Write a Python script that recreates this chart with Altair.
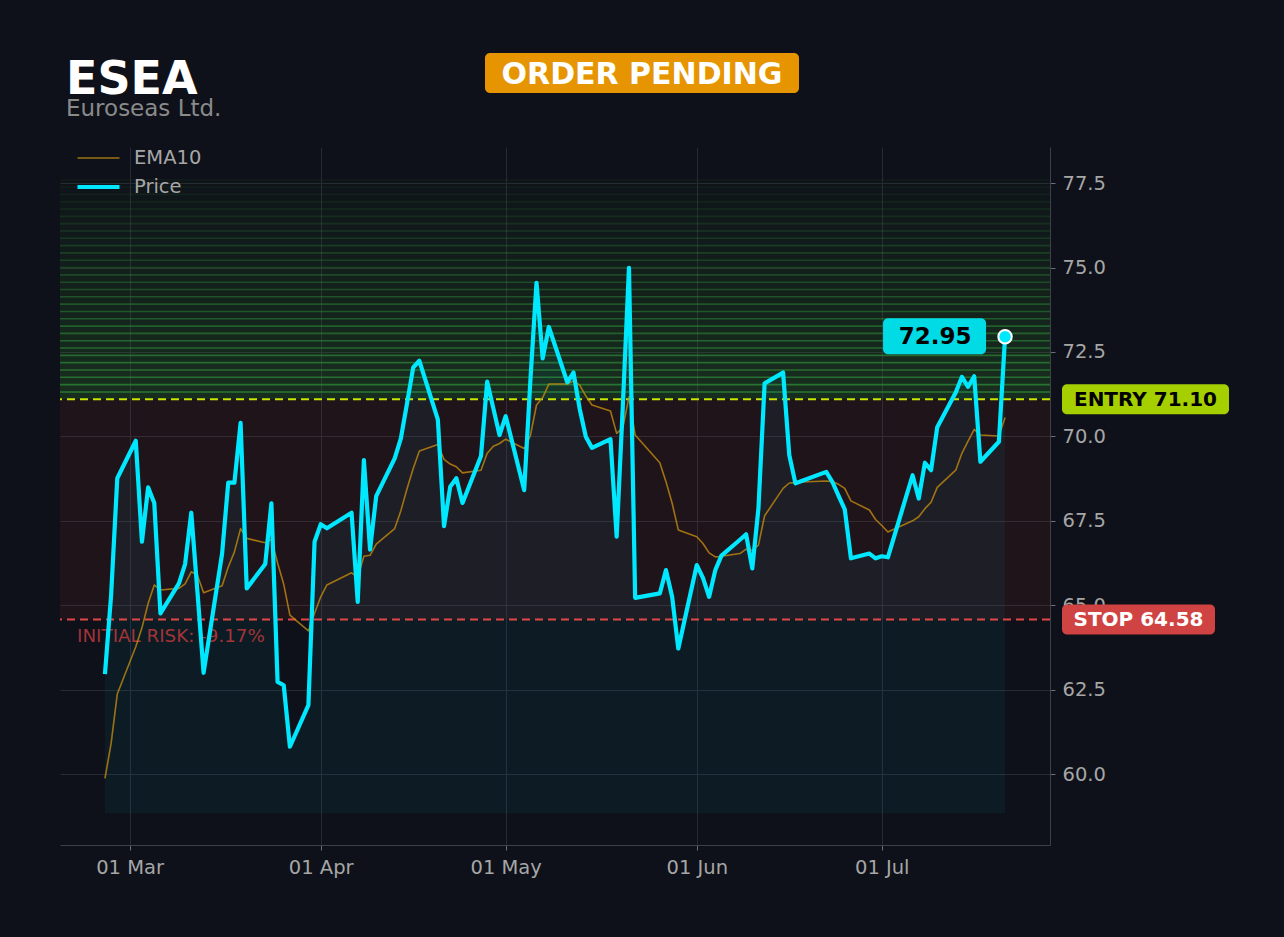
import altair as alt
import pandas as pd
import numpy as np

# ---------------- data ----------------
DATES = [
    "2026-02-25", "2026-02-26", "2026-02-27",
    "2026-03-02", "2026-03-03", "2026-03-04", "2026-03-05", "2026-03-06",
    "2026-03-09", "2026-03-10", "2026-03-11", "2026-03-12", "2026-03-13",
    "2026-03-16", "2026-03-17", "2026-03-18", "2026-03-19", "2026-03-20",
    "2026-03-23", "2026-03-24", "2026-03-25", "2026-03-26", "2026-03-27",
    "2026-03-30", "2026-03-31", "2026-04-01", "2026-04-02",
    "2026-04-06", "2026-04-07", "2026-04-08", "2026-04-09", "2026-04-10",
    "2026-04-13", "2026-04-14", "2026-04-15", "2026-04-16", "2026-04-17",
    "2026-04-20", "2026-04-21", "2026-04-22", "2026-04-23", "2026-04-24",
    "2026-04-27", "2026-04-28", "2026-04-29", "2026-04-30", "2026-05-01",
    "2026-05-04", "2026-05-05", "2026-05-06", "2026-05-07", "2026-05-08",
    "2026-05-11", "2026-05-12", "2026-05-13", "2026-05-14", "2026-05-15",
    "2026-05-18", "2026-05-19", "2026-05-20", "2026-05-21", "2026-05-22",
    "2026-05-26", "2026-05-27", "2026-05-28", "2026-05-29",
    "2026-06-01", "2026-06-02", "2026-06-03", "2026-06-04", "2026-06-05",
    "2026-06-08", "2026-06-09", "2026-06-10", "2026-06-11", "2026-06-12",
    "2026-06-15", "2026-06-16", "2026-06-17", "2026-06-18",
    "2026-06-22", "2026-06-23", "2026-06-24", "2026-06-25", "2026-06-26",
    "2026-06-29", "2026-06-30", "2026-07-01", "2026-07-02",
    "2026-07-06", "2026-07-07", "2026-07-08", "2026-07-09", "2026-07-10",
    "2026-07-13", "2026-07-14", "2026-07-15", "2026-07-16", "2026-07-17",
    "2026-07-20", "2026-07-21",
]
PRICE = [
    62.96, 65.30, 68.76,
    69.87, 66.88, 68.49, 68.03, 64.76,
    65.65, 66.22, 67.74, 65.40, 63.00,
    66.53, 68.63, 68.63, 70.40, 65.50,
    66.22, 68.02, 62.73, 62.63, 60.81,
    62.04, 66.88, 67.40, 67.28,
    67.74, 65.10, 69.30, 66.65, 68.23,
    69.35, 69.94, 70.98, 72.04, 72.24,
    70.50, 67.34, 68.51, 68.76, 68.03,
    69.42, 71.62, 70.83, 70.04, 70.60,
    68.41, 71.64, 74.55, 72.31, 73.24,
    71.60, 71.89, 70.82, 69.99, 69.66,
    69.92, 67.03, 70.90, 74.99, 65.22,
    65.35, 66.04, 65.25, 63.72,
    66.19, 65.81, 65.25, 66.04, 66.47,
    66.94, 67.10, 66.09, 67.87, 71.57,
    71.89, 69.45, 68.61, 68.68,
    68.95, 68.65, 68.24, 67.84, 66.39,
    66.53, 66.39, 66.45, 66.42,
    68.85, 68.16, 69.22, 69.00, 70.27,
    71.30, 71.76, 71.47, 71.78, 69.25,
    69.84, 72.95,
]
EMA10 = [
    59.87, 60.91, 62.37,
    63.77, 64.33, 65.05, 65.60, 65.45,
    65.50, 65.63, 65.99, 65.89, 65.37,
    65.58, 66.13, 66.58, 67.27, 66.98,
    66.85, 66.95, 66.25, 65.62, 64.71,
    64.24, 64.76, 65.25, 65.60,
    65.96, 65.83, 66.45, 66.48, 66.81,
    67.27, 67.80, 68.45, 69.05, 69.57,
    69.76, 69.32, 69.18, 69.10, 68.92,
    69.00, 69.50, 69.71, 69.79, 69.92,
    69.64, 70.02, 70.93, 71.15, 71.55,
    71.55, 71.64, 71.52, 71.20, 70.93,
    70.75, 70.09, 70.25, 71.17, 70.04,
    69.22, 68.66, 68.02, 67.23,
    67.03, 66.83, 66.55, 66.43, 66.45,
    66.53, 66.66, 66.63, 66.78, 67.65,
    68.46, 68.62, 68.63, 68.65,
    68.68, 68.66, 68.58, 68.46, 68.09,
    67.82, 67.54, 67.36, 67.17,
    67.50, 67.62, 67.86, 68.05, 68.49,
    69.00, 69.50, 69.86, 70.21, 70.04,
    70.01, 70.56,
]
SERIES = ["EMA10", "Price"]

TICKER = "ESEA"
COMPANY = "Euroseas Ltd."
STATUS = "ORDER PENDING"
ENTRY = 71.10
STOP = 64.58
TARGET_TOP = 77.60
FILL_BASE = 58.84
LAST_PRICE = 72.95
ENTRY_TEXT = "ENTRY 71.10"
STOP_TEXT = "STOP 64.58"
LAST_TEXT = "72.95"
RISK_TEXT = "INITIAL RISK: -9.17%"
Y_TICKS = [60.0, 62.5, 65.0, 67.5, 70.0, 72.5, 75.0, 77.5]
Y_DOMAIN = [57.90, 78.57]
MONTH_TICKS = [3, 4, 5, 6, 7]

# ---------------- style ----------------
BG = "#0e1119"
CYAN = "#00e8ff"
CYAN_BADGE = "#00dbe6"
GOLD = "#c08a10"
ENTRY_LINE = "#c8e600"
ENTRY_BADGE = "#a6cf00"
STOP_LINE = "#e04848"
STOP_BADGE = "#cf4343"
ORANGE = "#e69500"
LABEL = "#a6a6a6"
GRID = "#252a33"
FONT = "DejaVu Sans"
W, H = 990, 698

xscale = alt.Scale(
    type="utc",
    domain=[
        alt.DateTime(year=2026, month=2, date=17, hours=17, utc=True),
        alt.DateTime(year=2026, month=7, date=28, hours=7, utc=True),
    ],
)
yscale = alt.Scale(domain=Y_DOMAIN, nice=False, zero=False)

xaxis = alt.Axis(
    values=[alt.DateTime(year=2026, month=m, date=1, utc=True) for m in MONTH_TICKS],
    format="%d %b", title=None, grid=True, gridColor=GRID, gridWidth=1,
    labelFontSize=19.5, labelColor=LABEL, labelFont=FONT, tickColor="#6a6e76",
    tickSize=5, labelPadding=8, domainColor="#3b4049", labelFlush=False,
)
yaxis = alt.Axis(
    orient="right", values=Y_TICKS, format=".1f", title=None, grid=True,
    gridColor=GRID, gridWidth=1, labelFontSize=19.5, labelColor=LABEL,
    labelFont=FONT, tickColor="#6a6e76", tickSize=5, labelPadding=7,
    domainColor="#3b4049",
)


def X(field="date"):
    return alt.X(f"{field}:T", scale=xscale, axis=xaxis)


def Y(field):
    return alt.Y(f"{field}:Q", scale=yscale, axis=yaxis)


price_df = pd.DataFrame({"date": DATES, "price": PRICE, "ema": EMA10})
long_df = pd.concat([
    pd.DataFrame({"date": DATES, "value": EMA10, "series": SERIES[0]}),
    pd.DataFrame({"date": DATES, "value": PRICE, "series": SERIES[1]}),
], ignore_index=True)

# green "target" zone made of fading stripes (decoration)
levels = np.linspace(ENTRY, TARGET_TOP, 31)
frac = np.arange(30) / 30.0
bands_df = pd.DataFrame({
    "lo": levels[:-1], "hi": levels[1:],
    "fop": 0.20 * (1 - frac) + 0.02,
    "sop": 0.70 * (1 - frac) + 0.05,
})
bands = alt.Chart(bands_df).mark_rect(color="#3c9632").encode(
    x=alt.value(0), x2=alt.value(W), y=Y("lo"), y2="hi:Q",
    fillOpacity=alt.FillOpacity("fop:Q", scale=None, legend=None),
)
stripes = alt.Chart(bands_df).mark_rule(color="#2f8f3a", strokeWidth=1.6).encode(
    y=Y("hi"), strokeOpacity=alt.StrokeOpacity("sop:Q", scale=None, legend=None),
)

zone_df = pd.DataFrame({"lo": [STOP], "hi": [ENTRY]})
red_zone = alt.Chart(zone_df).mark_rect(color="#dc3232", fillOpacity=0.09).encode(
    x=alt.value(0), x2=alt.value(W), y=Y("lo"), y2="hi:Q"
)

area = alt.Chart(price_df).mark_area(color=CYAN, fillOpacity=0.05).encode(
    x=X(), y=Y("price"), y2=alt.datum(FILL_BASE)
)

entry_df = pd.DataFrame({"value": [ENTRY], "label": [ENTRY_TEXT]})
stop_df = pd.DataFrame({"value": [STOP], "label": [STOP_TEXT], "risk": [RISK_TEXT]})

entry_rule = alt.Chart(entry_df).mark_rule(
    color=ENTRY_LINE, strokeDash=[8, 5], strokeWidth=2
).encode(y=Y("value"))
stop_rule = alt.Chart(stop_df).mark_rule(
    color=STOP_LINE, strokeDash=[8, 5], strokeWidth=2
).encode(y=Y("value"))

risk_text = alt.Chart(stop_df).mark_text(
    align="left", baseline="alphabetic", dy=23, fontSize=18.3, font=FONT,
    color="#c0393b", fillOpacity=0.85,
).encode(x=alt.value(17), y=Y("value"), text="risk:N")

leg = alt.Legend(
    title=None, orient="none", legendX=15, legendY=-3.5, symbolType="stroke",
    symbolSize=1764, labelFontSize=19.5, labelColor=LABEL, labelFont=FONT,
    labelOffset=12, rowPadding=0, padding=0, clipHeight=29,
)
lines = alt.Chart(long_df).mark_line(strokeJoin="round").encode(
    x=X(), y=Y("value"),
    color=alt.Color("series:N", scale=alt.Scale(domain=SERIES, range=[GOLD, CYAN]), legend=leg),
    strokeWidth=alt.StrokeWidth("series:N", scale=alt.Scale(type="ordinal", domain=SERIES, range=[1.6, 4.2]), legend=leg),
    opacity=alt.Opacity("series:N", scale=alt.Scale(type="ordinal", domain=SERIES, range=[0.8, 1.0]), legend=leg),
)

last_df = pd.DataFrame({"date": [DATES[-1]], "value": [LAST_PRICE], "label": [LAST_TEXT]})
last_pt = alt.Chart(last_df).mark_circle(
    fill=CYAN, stroke="white", strokeWidth=2, size=180, fillOpacity=1, strokeOpacity=1
).encode(x=X(), y=Y("value"))
last_badge = alt.Chart(last_df).mark_rect(
    color=CYAN_BADGE, cornerRadius=5, xOffset=-122, x2Offset=-19, yOffset=-18.5, y2Offset=17.5
).encode(x=X(), x2="date:T", y=Y("value"), y2="value:Q")
last_text = alt.Chart(last_df).mark_text(
    align="center", baseline="alphabetic", dx=-70, dy=7.5, fontSize=23,
    fontWeight="bold", font=FONT, color="#000000",
).encode(x=X(), y=Y("value"), text="label:N")

entry_badge = alt.Chart(entry_df).mark_rect(
    color=ENTRY_BADGE, cornerRadius=5, yOffset=-15, y2Offset=15
).encode(x=alt.value(1002), x2=alt.value(1169), y=Y("value"), y2="value:Q")
entry_text = alt.Chart(entry_df).mark_text(
    align="center", baseline="alphabetic", dy=7, fontSize=20, fontWeight="bold",
    font=FONT, color="#000000",
).encode(x=alt.value(1085.5), y=Y("value"), text="label:N")
stop_badge = alt.Chart(stop_df).mark_rect(
    color=STOP_BADGE, cornerRadius=5, yOffset=-15, y2Offset=15
).encode(x=alt.value(1002), x2=alt.value(1155), y=Y("value"), y2="value:Q")
stop_text = alt.Chart(stop_df).mark_text(
    align="center", baseline="alphabetic", dy=7, fontSize=20, fontWeight="bold",
    font=FONT, color="#ffffff",
).encode(x=alt.value(1078.5), y=Y("value"), text="label:N")

head_df = pd.DataFrame({"ticker": [TICKER], "company": [COMPANY], "status": [STATUS]})
ticker_text = alt.Chart(head_df).mark_text(
    align="left", baseline="alphabetic", fontSize=46, fontWeight="bold", font=FONT, color="#ffffff"
).encode(x=alt.value(6), y=alt.value(-53), text="ticker:N")
company_text = alt.Chart(head_df).mark_text(
    align="left", baseline="alphabetic", fontSize=23, font=FONT, color="#8a8a8a"
).encode(x=alt.value(6), y=alt.value(-31), text="company:N")
status_badge = alt.Chart(head_df).mark_rect(color=ORANGE, cornerRadius=5).encode(
    x=alt.value(425), x2=alt.value(739), y=alt.value(-94), y2=alt.value(-54)
)
status_text = alt.Chart(head_df).mark_text(
    align="center", baseline="alphabetic", fontSize=30, fontWeight="bold", font=FONT, color="#ffffff"
).encode(x=alt.value(582), y=alt.value(-63.5), text="status:N")

chart = alt.layer(
    bands, stripes, red_zone, area, entry_rule, stop_rule, risk_text, lines,
    last_pt, last_badge, last_text, entry_badge, entry_text, stop_badge, stop_text,
    ticker_text, company_text, status_badge, status_text,
).properties(
    width=W, height=H,
    padding={"left": 52, "top": 139, "right": 216, "bottom": 76},
    autosize=alt.AutoSizeParams(type="none"),
).configure(background=BG, font=FONT).configure_view(stroke=None)

EMBED = {"renderer": "svg", "actions": False}
try:
    import jinja2
    TEMPLATE = jinja2.Template("""<!DOCTYPE html>
<html>
<head>
<meta charset="utf-8">
<style>
html, body { background: #0e1119; }
#{{ output_div }}.vega-embed { width: 100%; display: flex; }
</style>
<script type="text/javascript" src="{{ base_url }}/vega@{{ vega_version }}"></script>
<script type="text/javascript" src="{{ base_url }}/vega-lite@{{ vegalite_version }}"></script>
<script type="text/javascript" src="{{ base_url }}/vega-embed@{{ vegaembed_version }}"></script>
</head>
<body>
<div id="{{ output_div }}"></div>
<script>
  vegaEmbed("#{{ output_div }}", {{ spec }}, {{ embed_options }}).catch(function (e) {
    document.getElementById("{{ output_div }}").innerText = e.message;
  });
</script>
</body>
</html>
""")
    chart.save("out.html", embed_options=EMBED, template=TEMPLATE)
except Exception:
    chart.save("out.html", embed_options=EMBED)
